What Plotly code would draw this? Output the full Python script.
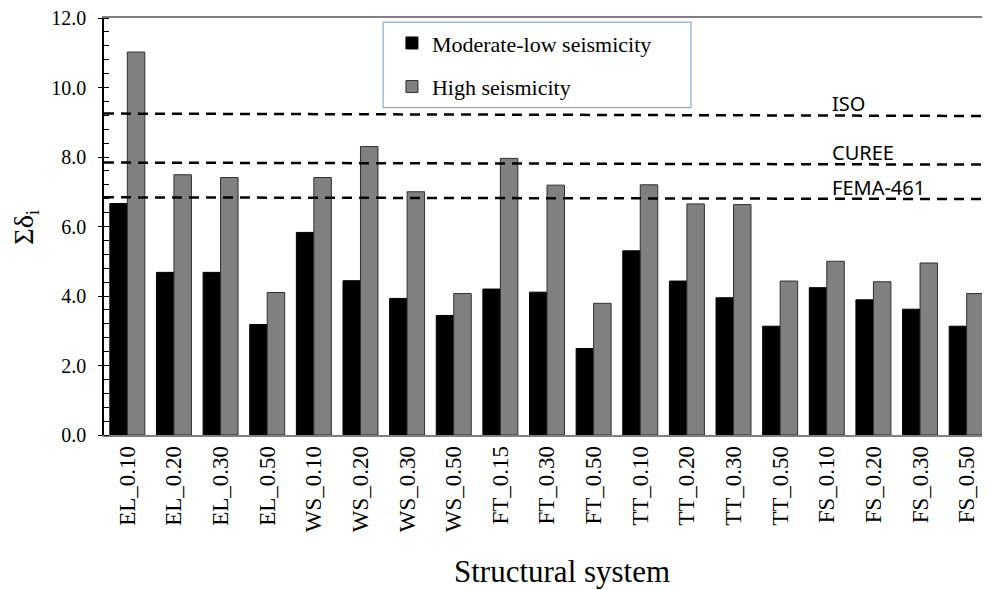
import plotly.graph_objects as go

categories = ["EL_0.10", "EL_0.20", "EL_0.30", "EL_0.50",
              "WS_0.10", "WS_0.20", "WS_0.30", "WS_0.50",
              "FT_0.15", "FT_0.30", "FT_0.50",
              "TT_0.10", "TT_0.20", "TT_0.30", "TT_0.50",
              "FS_0.10", "FS_0.20", "FS_0.30", "FS_0.50"]
moderate_low = [6.66, 4.68, 4.68, 3.18, 5.83, 4.44, 3.93, 3.44, 4.20, 4.11, 2.49,
                5.30, 4.43, 3.95, 3.13, 4.24, 3.89, 3.62, 3.13]
high = [11.02, 7.49, 7.41, 4.10, 7.41, 8.30, 7.00, 4.07, 7.96, 7.19, 3.79,
        7.20, 6.65, 6.63, 4.43, 5.00, 4.41, 4.95, 4.07]

limit_names = ["ISO", "CUREE", "FEMA-461"]
limit_start = [9.25, 7.84, 6.84]
limit_end = [9.18, 7.78, 6.79]
label_y = [9.55, 8.12, 7.13]

serif = "Liberation Serif"

fig = go.Figure()
fig.add_trace(go.Bar(x=categories, y=moderate_low, name="Moderate-low seismicity",
                     marker=dict(color="#000000", line=dict(color="#000000", width=1)),
                     legendgroup="a"))
fig.add_trace(go.Bar(x=categories, y=high, name="High seismicity",
                     marker=dict(color="#808080", line=dict(color="#303030", width=1)),
                     legendgroup="b"))

for name, y0, y1, ly in zip(limit_names, limit_start, limit_end, label_y):
    fig.add_shape(type="line", xref="paper", yref="y", x0=0, x1=1, y0=y0, y1=y1,
                  line=dict(color="#000000", width=2.5, dash="10px,7px"), layer="above")
    fig.add_annotation(xref="paper", yref="y", x=0.8194, y=ly, text=name, showarrow=False,
                       xanchor="left", yanchor="middle",
                       font=dict(family="Noto Sans", size=20, color="#000000"))

# legend frame
fig.add_shape(type="rect", xref="paper", yref="paper", x0=0.315, x1=0.6625, y0=0.785, y1=0.99,
              line=dict(color="#6a93cf", width=1), fillcolor="white", layer="below")

# axis titles
fig.add_annotation(xref="paper", yref="paper", x=0.517, y=-0.328, text="Structural system",
                   showarrow=False, xanchor="center", yanchor="middle",
                   font=dict(family=serif, size=31, color="#000000"))
fig.add_annotation(xref="paper", yref="paper", x=-0.089, y=0.5, text="Σδ<sub>i</sub>",
                   showarrow=False, xanchor="center", yanchor="middle", textangle=-90,
                   font=dict(family=serif, size=28, color="#000000"))

fig.update_layout(
    width=982, height=582,
    margin=dict(l=96, r=0, t=10, b=155),
    plot_bgcolor="white", paper_bgcolor="white",
    barmode="group", bargap=0.25, bargroupgap=0,
    font=dict(family=serif, color="#000000"),
    legend=dict(x=0.325, y=0.99, xanchor="left", yanchor="top",
                bgcolor="rgba(0,0,0,0)", borderwidth=0,
                font=dict(family=serif, size=22), itemwidth=30,
                traceorder="grouped", tracegroupgap=12),
    showlegend=True,
)
fig.update_xaxes(
    type="category", tickangle=-90, tickfont=dict(family=serif, size=23),
    showline=True, linecolor="#7f7f7f", linewidth=1.5, mirror=True,
    ticks="", ticklabelstandoff=0, automargin=False,
)
fig.update_yaxes(
    range=[0, 12], dtick=2, tickformat=".1f", tickfont=dict(family=serif, size=20),
    showline=True, linecolor="#000000", linewidth=1.5, mirror=True,
    ticks="outside", ticklen=4, tickcolor="#000000", showgrid=False, zeroline=False,
    ticklabelstandoff=8, ticklabeloverflow="allow",
    minor=dict(dtick=0.4, ticks="inside", ticklen=5, tickcolor="#000000", showgrid=False),
    automargin=False,
)

fig.write_html("out.html")
